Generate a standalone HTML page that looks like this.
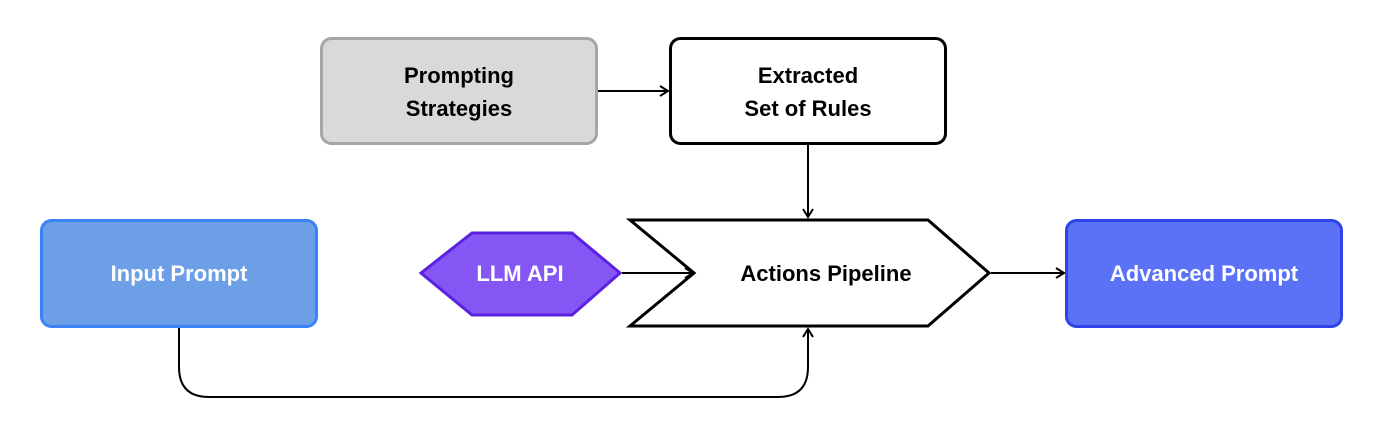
<!DOCTYPE html>
<html><head><style>
html,body{margin:0;padding:0;background:#fff;}
svg{display:block;}
text{font-family:"Liberation Sans",sans-serif;font-weight:bold;font-size:22px;text-anchor:middle;}
</style></head><body>
<svg width="1384" height="430" viewBox="0 0 1384 430">
<defs><marker id="a" markerWidth="12" markerHeight="12" refX="10" refY="6" orient="auto" markerUnits="userSpaceOnUse"><path d="M2,1 L10,6 L2,11" fill="none" stroke="#000" stroke-width="2"/></marker></defs>
<rect x="321.5" y="38.5" width="275" height="105" rx="10" fill="#d9d9d9" stroke="#a6a6a6" stroke-width="3"/>
<text x="459" y="83">Prompting</text><text x="459" y="116">Strategies</text>
<rect x="670.5" y="38.5" width="275" height="105" rx="10" fill="#fff" stroke="#000" stroke-width="3"/>
<text x="808" y="83">Extracted</text><text x="808" y="116">Set of Rules</text>
<rect x="41.5" y="220.5" width="275" height="106" rx="10" fill="#6c9fe6" stroke="#3b82f6" stroke-width="3"/>
<text x="179" y="281" fill="#fff">Input Prompt</text>
<rect x="1066.5" y="220.5" width="275" height="106" rx="10" fill="#5b72f6" stroke="#2f43e8" stroke-width="3"/>
<text x="1204" y="281" fill="#fff">Advanced Prompt</text>
<polygon points="421,273 472,233 572,233 620,273 572,315 472,315" fill="#8457f5" stroke="#5a22e0" stroke-width="3"/>
<text x="520" y="281" fill="#fff">LLM API</text>
<polygon points="630,220 928,220 989,273 928,326 630,326 694,273" fill="#fff" stroke="#000" stroke-width="3"/>
<text x="826" y="281">Actions Pipeline</text>
<g fill="none" stroke="#000" stroke-width="2">
<line x1="598" y1="91" x2="668" y2="91" marker-end="url(#a)"/>
<line x1="808" y1="145" x2="808" y2="217" marker-end="url(#a)"/>
<line x1="622" y1="273" x2="693" y2="273" marker-end="url(#a)"/>
<line x1="991" y1="273" x2="1064" y2="273" marker-end="url(#a)"/>
<path d="M179,328 V367 Q179,397 209,397 H778 Q808,397 808,367 V329" marker-end="url(#a)"/>
</g>
</svg>
</body></html>
